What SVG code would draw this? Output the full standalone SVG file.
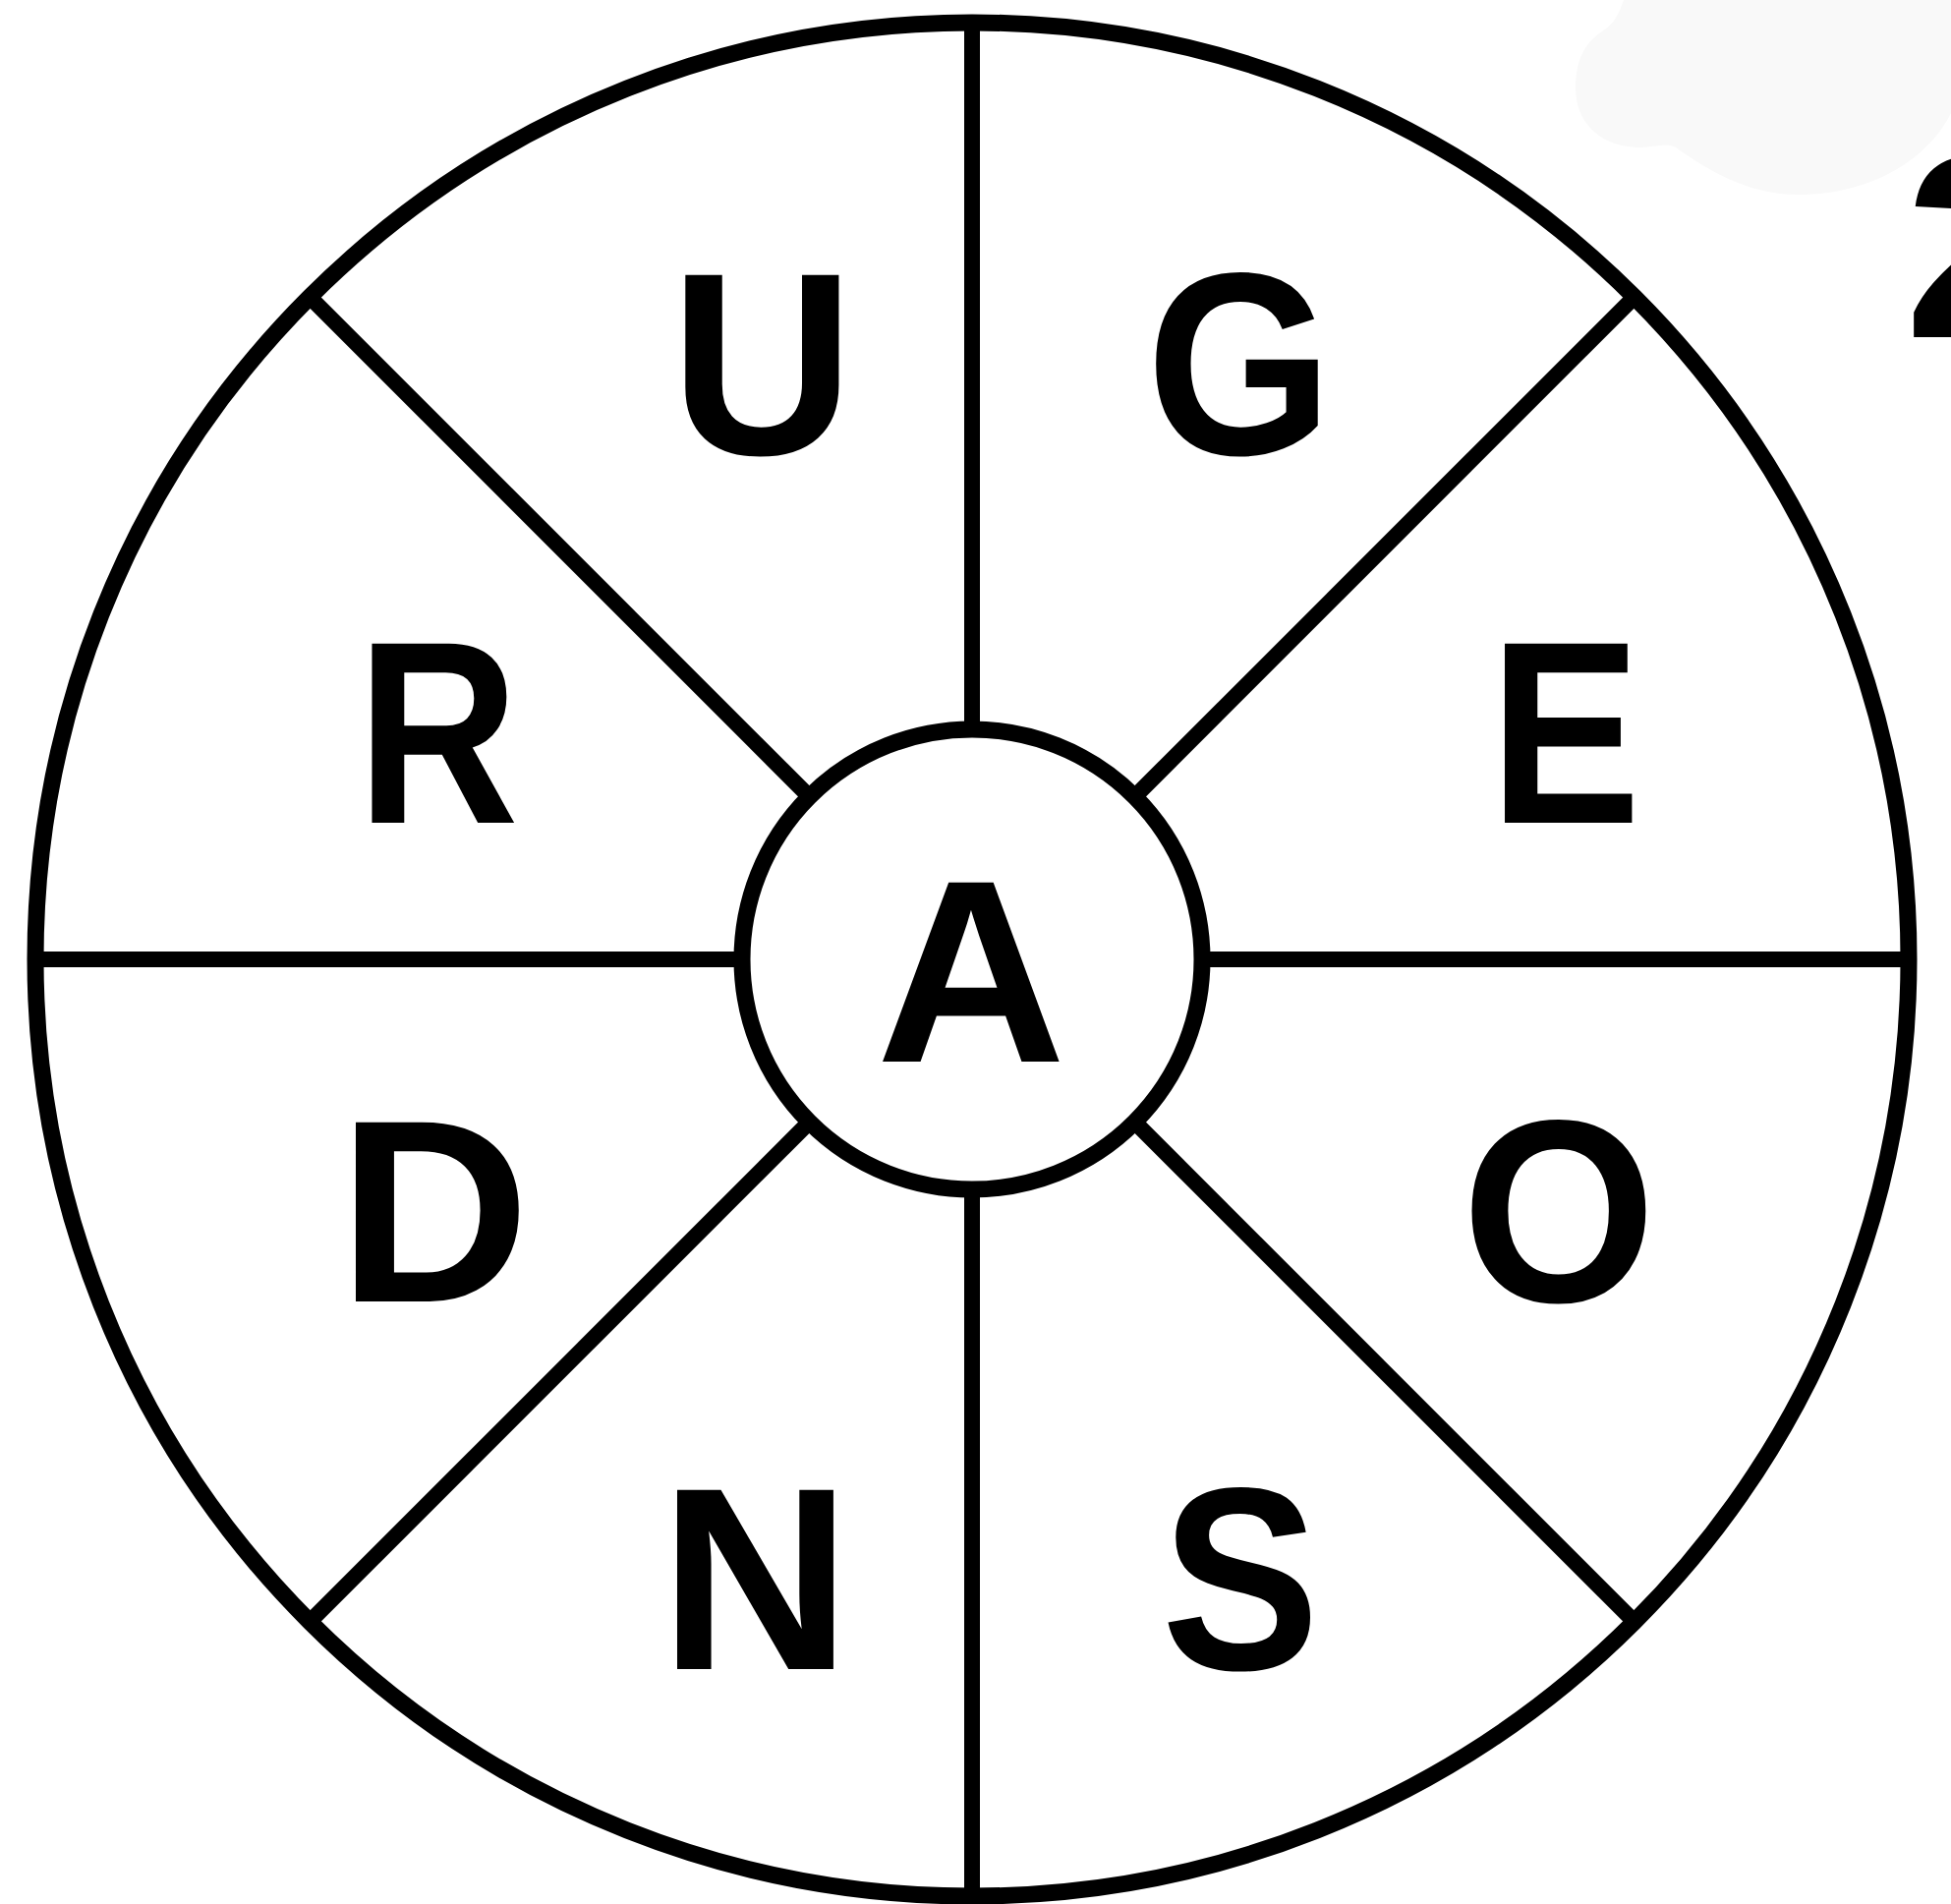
<svg xmlns="http://www.w3.org/2000/svg" width="1985" height="1937" viewBox="0 0 1985 1937">
  <style>
    .ring { fill: none; stroke: #000; stroke-width: 17; }
    .hub { fill: #fff; stroke: #000; stroke-width: 17; }
    .spoke { stroke: #000; stroke-width: 16; stroke-linecap: butt; }
    .letter { font-family: "Liberation Sans", Arial, sans-serif; font-weight: bold; font-size: 265px; fill: #000; text-anchor: middle; }
  </style>
  <rect x="0" y="0" width="1985" height="1937" fill="#fff"/>
  <path id="blob" d="M 1652 0 C 1645 20 1640 25 1630 32 C 1610 45 1603 65 1603 90 C 1603 122 1625 148 1665 150 C 1685 150 1695 145 1705 150 C 1740 175 1780 198 1830 198 C 1900 198 1960 165 1985 115 L 1985 0 Z" fill="#f9f9f9"/>
  <g id="outer-ring">
    <circle class="ring" cx="989" cy="976" r="953"/>
  </g>
  <g id="spokes">
    <line class="spoke" x1="989" y1="742" x2="989" y2="23"/>
    <line class="spoke" x1="989" y1="1210" x2="989" y2="1929"/>
    <line class="spoke" x1="755" y1="976" x2="36" y2="976"/>
    <line class="spoke" x1="1223" y1="976" x2="1942" y2="976"/>
    <line class="spoke" x1="823.5" y1="810.5" x2="315.1" y2="302.1"/>
    <line class="spoke" x1="1154.5" y1="810.5" x2="1662.9" y2="302.1"/>
    <line class="spoke" x1="823.5" y1="1141.5" x2="315.1" y2="1649.9"/>
    <line class="spoke" x1="1154.5" y1="1141.5" x2="1662.9" y2="1649.9"/>
  </g>
  <g id="hub">
    <circle class="hub" cx="989" cy="976" r="234"/>
    <text class="letter" transform="translate(988,1080) scale(1.01,1)">A</text>
  </g>
  <g id="node-U"><text class="letter" transform="translate(775.5,462) scale(0.98,1)">U</text></g>
  <g id="node-G"><text class="letter" transform="translate(1261,462) scale(0.92,1)">G</text></g>
  <g id="node-R"><text class="letter" transform="translate(445.5,837) scale(0.86,1)">R</text></g>
  <g id="node-E"><text class="letter" transform="translate(1592.5,837) scale(0.87,1)">E</text></g>
  <g id="node-D"><text class="letter" transform="translate(441.5,1324) scale(1.02,1)">D</text></g>
  <g id="node-O"><text class="letter" transform="translate(1586,1324) scale(0.96,1)">O</text></g>
  <g id="node-N"><text class="letter" transform="translate(768.5,1698) scale(1.02,1)">N</text></g>
  <g id="node-S"><text class="letter" transform="translate(1262,1698) scale(0.91,1)">S</text></g>
  <g id="label-2"><text class="letter" x="1938" y="343" style="text-anchor:start">2</text></g>
</svg>
